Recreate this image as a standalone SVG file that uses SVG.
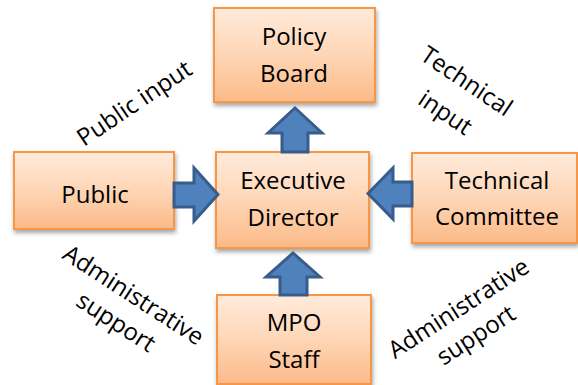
<svg xmlns="http://www.w3.org/2000/svg" width="578" height="385" viewBox="0 0 578 385">
<defs>
<linearGradient id="boxfill" x1="0" y1="0" x2="0" y2="1">
<stop offset="0" stop-color="#ffebdc"/>
<stop offset="0.5" stop-color="#fed6b6"/>
<stop offset="1" stop-color="#fbba88"/>
</linearGradient>
<filter id="shadow" x="-10%" y="-10%" width="125%" height="130%">
<feDropShadow dx="1" dy="3" stdDeviation="2" flood-color="#000" flood-opacity="0.35"/>
</filter>
</defs>
<style>
.box{fill:url(#boxfill);stroke:#f79646;stroke-width:2;filter:url(#shadow)}
.lbl{font-family:"Open Sans","Liberation Sans",sans-serif;font-size:24px;fill:#000;text-anchor:middle}
.arr{fill:#4f81bd;stroke:#385d8a;stroke-width:3;stroke-linejoin:miter}
</style>
<rect width="578" height="385" fill="#fff"/>
<g id="policy-board">
<rect class="box" x="214" y="8" width="161" height="94"/>
<text class="lbl" x="294" y="45">Policy</text>
<text class="lbl" x="294" y="82">Board</text>
</g>
<g id="executive-director">
<rect class="box" x="216" y="152" width="153" height="96"/>
<text class="lbl" x="293" y="189">Executive</text>
<text class="lbl" x="293" y="226">Director</text>
</g>
<g id="public">
<rect class="box" x="14" y="152" width="160" height="77"/>
<text class="lbl" x="95" y="203">Public</text>
</g>
<g id="technical-committee">
<rect class="box" x="412" y="153" width="165" height="90"/>
<text class="lbl" x="497" y="189">Technical</text>
<text class="lbl" x="497" y="225">Committee</text>
</g>
<g id="mpo-staff">
<rect class="box" x="217" y="295" width="154" height="89"/>
<text class="lbl" x="294" y="331">MPO</text>
<text class="lbl" x="294" y="368">Staff</text>
</g>
<g id="connectors">
<polygon class="arr" points="282,152 282,133 268,133 295,108 322,133 308,133 308,152"/>
<polygon class="arr" points="280,295 280,277 266,277 293,253 320,277 307,277 307,295"/>
<polygon class="arr" points="174,183 194,183 194,168 218,194.5 194,221 194,207 174,207"/>
<polygon class="arr" points="412,182 393,182 393,168 368,193.5 393,219 393,206 412,206"/>
</g>
<g id="edge-labels">
<g transform="translate(139,110) rotate(-34)"><text class="lbl" x="0" y="0">Public input</text></g>
<g transform="translate(462,88) rotate(34)"><text class="lbl" x="0" y="0">Technical</text><text class="lbl" x="0" y="38">input</text></g>
<g transform="translate(129,302) rotate(33)"><text class="lbl" x="0" y="0">Administrative</text><text class="lbl" x="0" y="32">support</text></g>
<g transform="translate(463,315) rotate(-33)"><text class="lbl" x="0" y="0">Administrative</text><text class="lbl" x="0" y="32">support</text></g>
</g>
</svg>
